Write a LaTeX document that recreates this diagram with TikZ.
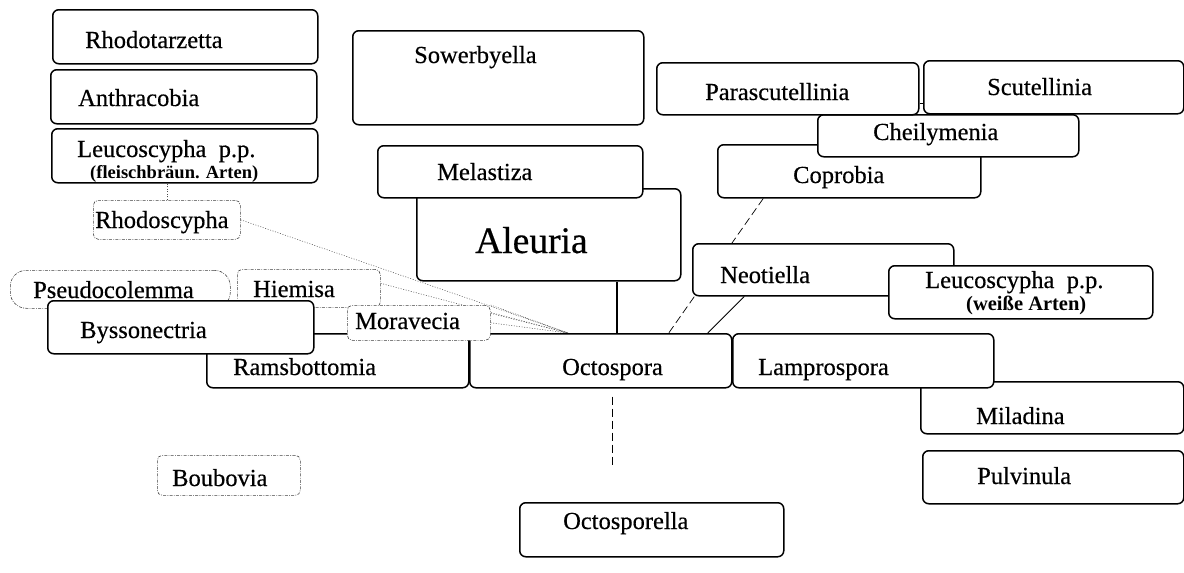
\documentclass[tikz,border=0pt]{standalone}
\usepackage{fontspec}
\setmainfont{Liberation Serif}
\newfontfamily\lblfont[FakeBold=0.4]{Liberation Serif}
\pgfdeclarelayer{bg}
\pgfsetlayers{bg,main}
\tikzset{
  box/.style={draw, line width=1.5pt, rounded corners=6pt, fill=white, anchor=north west, inner sep=0pt},
  dbox/.style={draw=black!75, line width=0.6pt, dash pattern=on 3pt off 1.3pt on 0.8pt off 1.3pt, rounded corners=5pt, fill=white, anchor=north west, inner sep=0pt},
  lbl/.style={anchor=base west, inner sep=0pt, font=\lblfont\fontsize{24.5}{28}\selectfont},
  slbl/.style={anchor=base west, inner sep=0pt, font=\bfseries\fontsize{18.5}{22}\selectfont},
  dotline/.style={draw=black!70, line width=0.5pt, dash pattern=on 1pt off 1.6pt},
  dashline/.style={line width=0.7pt, dash pattern=on 8pt off 4pt},
  solidline/.style={line width=1.5pt},
  thinline/.style={line width=0.8pt},
}
\begin{document}
\begin{tikzpicture}[x=1pt,y=-1pt]
\useasboundingbox (0,0) rectangle (1184,573);
% left column
\node[box, minimum width=265pt, minimum height=54pt] (rhodot) at (52,9) {};
\node[lbl] (trhodot) at (85,48) {Rhodotarzetta};
\node[box, minimum width=266pt, minimum height=54pt] (anthr) at (50,69) {};
\node[lbl] (tanthr) at (78,106) {Anthracobia};
\node[box, minimum width=266pt, minimum height=54pt] (leuc1) at (51,128) {};
\node[lbl] (tleuc1) at (77,157) {Leucoscypha\ \ p.p.};
\node[slbl] (tleuc1b) at (90,178) {(fleischbräun. Arten)};
\node[dbox, minimum width=147pt, minimum height=39pt] (rhodos) at (93,200) {};
\node[lbl] (trhodos) at (95,228) {Rhodoscypha};
% Sowerbyella
\node[box, minimum width=291pt, minimum height=94pt] (sower) at (352,30) {};
\node[lbl] (tsower) at (414,63) {Sowerbyella};
% Aleuria / Melastiza
\node[box, minimum width=264pt, minimum height=92pt] (ale) at (416,188) {};
\node[anchor=base west, inner sep=0pt, font=\lblfont\fontsize{37.5}{40}\selectfont] (tale) at (475,253) {Aleuria};
\node[box, minimum width=265pt, minimum height=52pt] (mela) at (377,145) {};
\node[lbl] (tmela) at (437,180) {Melastiza};
% right top cluster
\node[box, minimum width=263pt, minimum height=53pt] (copr) at (717,144) {};
\node[lbl] (tcopr) at (793,183) {Coprobia};
\node[box, minimum width=261pt, minimum height=42pt] (cheil) at (817,114) {};
\node[lbl] (tcheil) at (873,140) {Cheilymenia};
\node[box, minimum width=262pt, minimum height=52pt] (para) at (656,62) {};
\node[lbl] (tpara) at (705,100) {Parascutellinia};
\node[box, minimum width=260pt, minimum height=53pt] (scut) at (923,60) {};
\node[lbl] (tscut) at (987,95) {Scutellinia};
% Neotiella, Leucoscypha weisse
\node[box, minimum width=261pt, minimum height=52pt] (neo) at (692,243) {};
\node[lbl] (tneo) at (720,283) {Neotiella};
\node[box, minimum width=264pt, minimum height=53pt] (leuc2) at (888,265) {};
\node[lbl] (tleuc2) at (925,288) {Leucoscypha\ \ p.p.};
\node[slbl, font=\bfseries\fontsize{20.5}{24}\selectfont] (tleuc2b) at (966,310) {(weiße Arten)};
% middle row left
\node[dbox, rounded corners=16pt, minimum width=220pt, minimum height=38pt] (pseudo) at (10,270) {};
\node[lbl] (tpseudo) at (33,298) {Pseudocolemma};
\node[dbox, minimum width=143pt, minimum height=38pt] (hiem) at (237,269) {};
\node[lbl] (thiem) at (253,297) {Hiemisa};
\node[box, minimum width=262pt, minimum height=54pt] (rams) at (206,333) {};
\node[lbl] (trams) at (233,375) {Ramsbottomia};
\node[box, minimum width=262pt, minimum height=54pt] (octo) at (469,333) {};
\node[lbl] (tocto) at (562,375) {Octospora};
\node[box, minimum width=266pt, minimum height=53pt] (bysso) at (47,300) {};
\node[lbl] (tbysso) at (80,338) {Byssonectria};
\node[dbox, minimum width=143pt, minimum height=35pt] (mora) at (347,305) {};
\node[lbl] (tmora) at (355,329) {Moravecia};
% right lower
\node[box, minimum width=263pt, minimum height=52pt] (mila) at (920,381) {};
\node[lbl] (tmila) at (976,424) {Miladina};
\node[box, minimum width=261pt, minimum height=54pt] (lampro) at (732,333) {};
\node[lbl] (tlampro) at (758,375) {Lamprospora};
\node[box, minimum width=261pt, minimum height=53pt] (pulv) at (922,450) {};
\node[lbl] (tpulv) at (977,484) {Pulvinula};
% bottom
\node[dbox, minimum width=143pt, minimum height=40pt] (boub) at (157,455) {};
\node[lbl] (tboub) at (172,486) {Boubovia};
\node[box, minimum width=264pt, minimum height=54pt] (octsp) at (519,502) {};
\node[lbl] (toctsp) at (563,529) {Octosporella};
% connectors
\coordinate (conv) at (568,333);
\coordinate (d1) at ([xshift=12pt,yshift=-8pt]octo.south);
\coordinate (d2) at ([yshift=35pt]octsp.north);
\coordinate (ps) at ([yshift=-14.5pt]para.east);
\coordinate (a1) at ([xshift=68pt]ale.south);
\begin{pgfonlayer}{bg}
\draw[dotline] (rhodos.north) -- (rhodos.north |- leuc1.south);
\draw[dotline] (rhodos.east) -- (conv);
\draw[dotline] ([yshift=5pt]hiem.east) -- (conv);
\draw[dotline] (mora.north east) -- (conv);
\draw[dotline] ([yshift=9.5pt]mora.east) -- (conv);
\draw[dotline] (mora.east) -- (conv);
\draw[solidline] (a1) -- (a1 |- octo.north);
\draw[dashline] ([xshift=-86pt]copr.south) -- ([xshift=68pt]octo.north);
\draw[thinline] ([xshift=-79pt]neo.south) -- ([xshift=107pt]octo.north);
\draw[dashline] (d1) -- (d1 |- d2);
\draw[solidline] (ps) -- (ps -| scut.west);
\end{pgfonlayer}
\end{tikzpicture}
\end{document}
